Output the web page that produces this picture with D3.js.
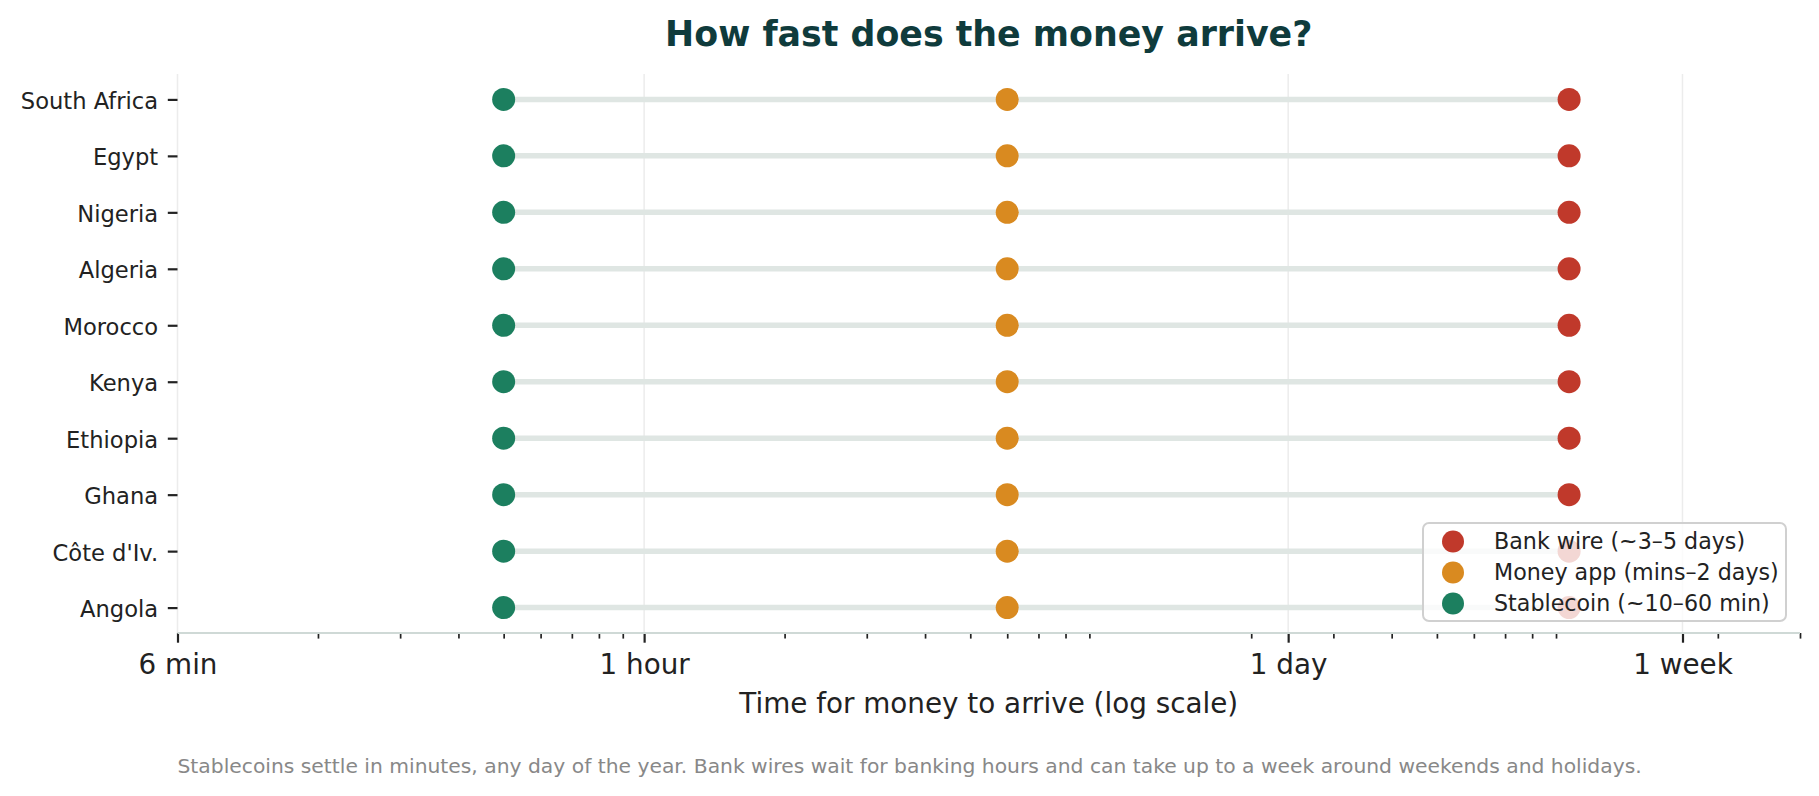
<!DOCTYPE html>
<html>
<head>
<meta charset="utf-8">
<script src="https://cdn.jsdelivr.net/npm/d3@7"></script>
<style>
  body { margin: 0; background: #fff; }
  text { font-family: "DejaVu Sans", sans-serif; }
</style>
</head>
<body>
<div id="chart"></div>
<script>
// Dữ liệu: thời gian (giờ) để tiền đến nơi
const countries = ["South Africa", "Egypt", "Nigeria", "Algeria", "Morocco", "Kenya", "Ethiopia", "Ghana", "Côte d'Iv.", "Angola"];
const stablecoinHours = [0.5, 0.5, 0.5, 0.5, 0.5, 0.5, 0.5, 0.5, 0.5, 0.5];
const moneyAppHours   = [6, 6, 6, 6, 6, 6, 6, 6, 6, 6];
const bankWireHours   = [96, 96, 96, 96, 96, 96, 96, 96, 96, 96];

const tickHours  = [0.1, 1, 24, 168];
const tickLabels = ["6 min", "1 hour", "1 day", "1 week"];
const minorTickHours = [0.2, 0.3, 0.4, 0.5, 0.6, 0.7, 0.8, 0.9, 2, 3, 4, 5, 6, 7, 8, 9, 20, 30, 40, 50, 60, 70, 80, 90, 200, 300];

const seriesNames  = ["Bank wire (~3–5 days)", "Money app (mins–2 days)", "Stablecoin (~10–60 min)"];
const seriesColors = ["#c0392b", "#d98a20", "#1c7f5f"];

const W = 1819, H = 796;
const margin = { top: 74, right: 19, bottom: 163, left: 177.5 };
const innerW = W - margin.left - margin.right;
const innerH = H - margin.top - margin.bottom;

const svg = d3.select("#chart").append("svg")
    .attr("width", W).attr("height", H);

const g = svg.append("g").attr("transform", `translate(${margin.left},${margin.top})`);

const x = d3.scaleLog().domain([0.1, 300]).range([0, innerW]);
const y = d3.scalePoint().domain(countries).range([0, innerH]).padding(0.45);

// Lưới dọc
g.selectAll(".grid").data(tickHours).enter().append("line")
    .attr("x1", d => x(d)).attr("x2", d => x(d))
    .attr("y1", 0).attr("y2", innerH)
    .attr("stroke", "#ececec").attr("stroke-width", 1.5);

// Đường nối
const rows = countries.map((c, i) => ({
    country: c, stable: stablecoinHours[i], app: moneyAppHours[i], bank: bankWireHours[i]
}));

g.selectAll(".conn").data(rows).enter().append("line")
    .attr("x1", d => x(d.stable)).attr("x2", d => x(d.bank))
    .attr("y1", d => y(d.country)).attr("y2", d => y(d.country))
    .attr("stroke", "#dfe6e3").attr("stroke-width", 5.5);

// Chấm
const keys = ["bank", "app", "stable"];
keys.forEach((k, j) => {
    g.selectAll(".dot-" + k).data(rows).enter().append("circle")
        .attr("cx", d => x(d[k])).attr("cy", d => y(d.country))
        .attr("r", 11.5).attr("fill", seriesColors[j]);
});

// Trục X
const xAxis = g.append("g").attr("transform", `translate(0,${innerH})`)
    .call(d3.axisBottom(x).tickValues(tickHours).tickFormat((d, i) => tickLabels[i])
        .tickSize(9.7).tickPadding(12));
xAxis.select(".domain").remove();
xAxis.selectAll(".tick line").attr("stroke", "#222").attr("stroke-width", 2.2);
xAxis.selectAll(".tick text").attr("fill", "#222").style("font-size", "27.8px")
    .style("font-family", "DejaVu Sans");

const xMinor = g.append("g").attr("transform", `translate(0,${innerH})`)
    .call(d3.axisBottom(x).tickValues(minorTickHours).tickFormat("").tickSize(5.6));
xMinor.select(".domain").remove();
xMinor.selectAll(".tick line").attr("stroke", "#222").attr("stroke-width", 1.7);

g.append("line")
    .attr("x1", 0).attr("x2", innerW).attr("y1", innerH).attr("y2", innerH)
    .attr("stroke", "#cfd9d6").attr("stroke-width", 2.2);

// Trục Y
const yAxis = g.append("g").call(d3.axisLeft(y).tickSize(9.7).tickPadding(9.7));
yAxis.select(".domain").remove();
yAxis.selectAll(".tick line").attr("stroke", "#222").attr("stroke-width", 2.2);
yAxis.selectAll(".tick text").attr("fill", "#222").attr("dy", "0.4em")
    .style("font-size", "22.6px").style("font-family", "DejaVu Sans");

// Tiêu đề
svg.append("text")
    .attr("x", margin.left + innerW / 2).attr("y", 46)
    .attr("text-anchor", "middle")
    .attr("fill", "#0f3b3c").style("font-size", "34.8px").style("font-weight", "bold")
    .text("How fast does the money arrive?");

svg.append("text")
    .attr("x", margin.left + innerW / 2).attr("y", 713)
    .attr("text-anchor", "middle")
    .attr("fill", "#222").style("font-size", "27.8px")
    .text("Time for money to arrive (log scale)");

svg.append("text")
    .attr("x", margin.left).attr("y", 773)
    .attr("fill", "#888").style("font-size", "20.3px")
    .text("Stablecoins settle in minutes, any day of the year. Bank wires wait for banking hours and can take up to a week around weekends and holidays.");

// Chú giải
const lg = svg.append("g").attr("transform", "translate(1423,523)");
lg.append("rect")
    .attr("width", 363).attr("height", 98).attr("rx", 6)
    .attr("fill", "#fff").attr("fill-opacity", 0.8)
    .attr("stroke", "#d0d0d0").attr("stroke-width", 2);
seriesNames.forEach((name, i) => {
    const ly = 18.5 + i * 31;
    lg.append("circle").attr("cx", 30).attr("cy", ly).attr("r", 11).attr("fill", seriesColors[i]);
    lg.append("text").attr("x", 71).attr("y", ly + 7.5)
        .attr("fill", "#222").style("font-size", "22.2px").text(name);
});
</script>
</body>
</html>
